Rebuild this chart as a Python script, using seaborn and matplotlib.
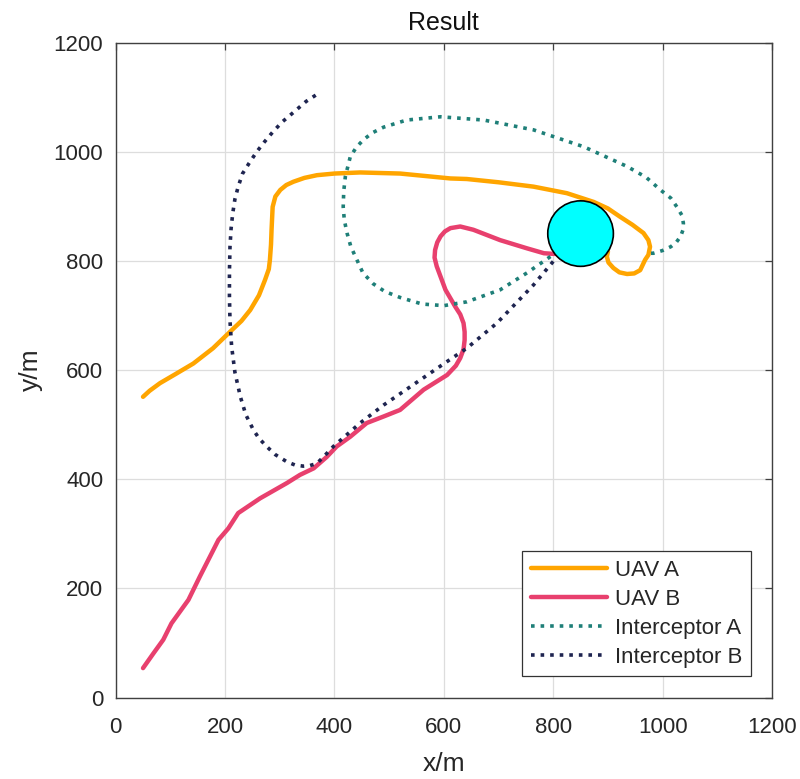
import numpy as np
import pandas as pd
import matplotlib
matplotlib.use("Agg")
import matplotlib.pyplot as plt
from matplotlib.patches import Circle
import seaborn as sns

# ---- data ----
uav_a_x = [50, 62, 81, 110, 142, 178, 209, 230, 246, 262, 273, 280, 282, 284, 285, 287, 292, 301, 312, 325, 345, 368, 400, 447, 520, 612, 642, 700, 764, 825, 874, 900, 922, 945, 965, 974, 977, 974, 968, 959, 948, 935, 921, 910, 901, 898, 900, 890]
uav_a_y = [551, 562, 576, 593, 612, 640, 670, 690, 710, 737, 765, 785, 802, 830, 857, 899, 918, 930, 939, 945, 952, 957, 960, 962, 960, 951, 950, 944, 936, 924, 908, 896, 881, 866, 851, 838, 826, 811, 802, 783, 777, 776, 779, 787, 797, 808, 817, 830]

uav_b_x = [50, 69, 87, 102, 133, 154, 188, 206, 224, 264, 313, 337, 362, 386, 404, 429, 459, 490, 520, 563, 606, 622, 630, 636, 638, 638, 636, 630, 621, 603, 587, 583, 584, 588, 594, 602, 612, 630, 654, 703, 752, 783, 798, 830]
uav_b_y = [54, 81, 106, 136, 179, 222, 289, 310, 338, 365, 393, 408, 420, 441, 460, 478, 503, 515, 527, 564, 591, 608, 622, 638, 655, 670, 686, 702, 716, 747, 790, 806, 820, 834, 845, 854, 860, 863, 857, 838, 823, 814, 813, 812]

int_a_x = [795, 752, 703, 642, 600, 560, 520, 492, 471, 452, 441, 430, 423, 418, 416, 417, 420, 429, 440, 453, 470, 490, 532, 594, 673, 764, 856, 935, 970, 996, 1015, 1026, 1035, 1038, 1037, 1033, 1025, 1015, 1000, 983, 968]
int_a_y = [808, 778, 747, 725, 718, 721, 733, 744, 758, 778, 802, 826, 851, 875, 899, 928, 955, 991, 1008, 1022, 1035, 1045, 1058, 1064, 1058, 1040, 1009, 973, 953, 930, 915, 899, 884, 869, 856, 845, 834, 826, 819, 814, 814]

int_b_x = [800, 764, 697, 642, 605, 557, 490, 447, 398, 380, 368, 355, 343, 328, 313, 292, 276, 262, 252, 238, 228, 218, 212, 209, 208, 208, 209, 211, 214, 218, 224, 232, 244, 258, 272, 288, 305, 325, 348, 371]
int_b_y = [799, 756, 686, 640, 615, 582, 536, 503, 460, 441, 429, 425, 424, 426, 432, 445, 460, 475, 490, 518, 551, 596, 643, 690, 734, 780, 826, 859, 887, 913, 936, 960, 979, 1000, 1018, 1037, 1055, 1072, 1092, 1107]

target_center = (850, 850)
target_radius = 60

ticks = [0, 200, 400, 600, 800, 1000, 1200]

# ---- style ----
sns.set_theme(style="whitegrid")
plt.rcParams['font.family'] = ['Liberation Sans', 'DejaVu Sans']

fig = plt.figure(figsize=(8, 7.79), dpi=100)
ax = fig.add_axes([0.1446, 0.1045, 0.8204, 0.8409])

series = [
    ("UAV A", uav_a_x, uav_a_y, "#FFA500", "-", 3.2),
    ("UAV B", uav_b_x, uav_b_y, "#E8406E", "-", 3.2),
    ("Interceptor A", int_a_x, int_a_y, "#1E7F78", ":", 2.6),
    ("Interceptor B", int_b_x, int_b_y, "#1E2450", ":", 2.6),
]
for name, xs, ys, col, ls, lw in series:
    df = pd.DataFrame({"x": xs, "y": ys})
    sns.lineplot(data=df, x="x", y="y", sort=False, estimator=None, ax=ax,
                 color=col, linestyle=ls, linewidth=lw, label=name)

circ = Circle(target_center, target_radius, facecolor="#00FFFF", edgecolor="black",
              linewidth=1.2, zorder=10)
ax.add_patch(circ)

ax.set_xlim(0, 1200)
ax.set_ylim(0, 1200)
ax.set_xticks(ticks)
ax.set_yticks(ticks)
ax.set_xticklabels([str(t) for t in ticks], fontsize=16)
ax.set_yticklabels([str(t) for t in ticks], fontsize=16)
ax.set_xlabel("x/m", fontsize=19, color="#262626", labelpad=10)
ax.set_ylabel("y/m", fontsize=19, color="#262626", labelpad=8)
ax.set_title("Result", fontsize=18, color="#111111", pad=9)

ax.set_facecolor("white")
ax.grid(True, color="#DDDDDD", linewidth=0.9)
for s in ax.spines.values():
    s.set_visible(True)
    s.set_color("#404040")
    s.set_linewidth(1.0)
ax.tick_params(direction="in", length=5, width=0.9, colors="#404040",
               top=True, right=True, labelcolor="#262626")
ax.tick_params(axis="x", pad=14)
ax.tick_params(axis="y", pad=9)

leg = ax.legend(loc="lower right", fontsize=16, frameon=True, fancybox=False,
                edgecolor="#333333", framealpha=1, handlelength=3.4,
                borderaxespad=0.95, labelspacing=0.36, handletextpad=0.35,
                borderpad=0.4)
leg.get_frame().set_linewidth(0.9)

fig.savefig("out.png", dpi=100)
